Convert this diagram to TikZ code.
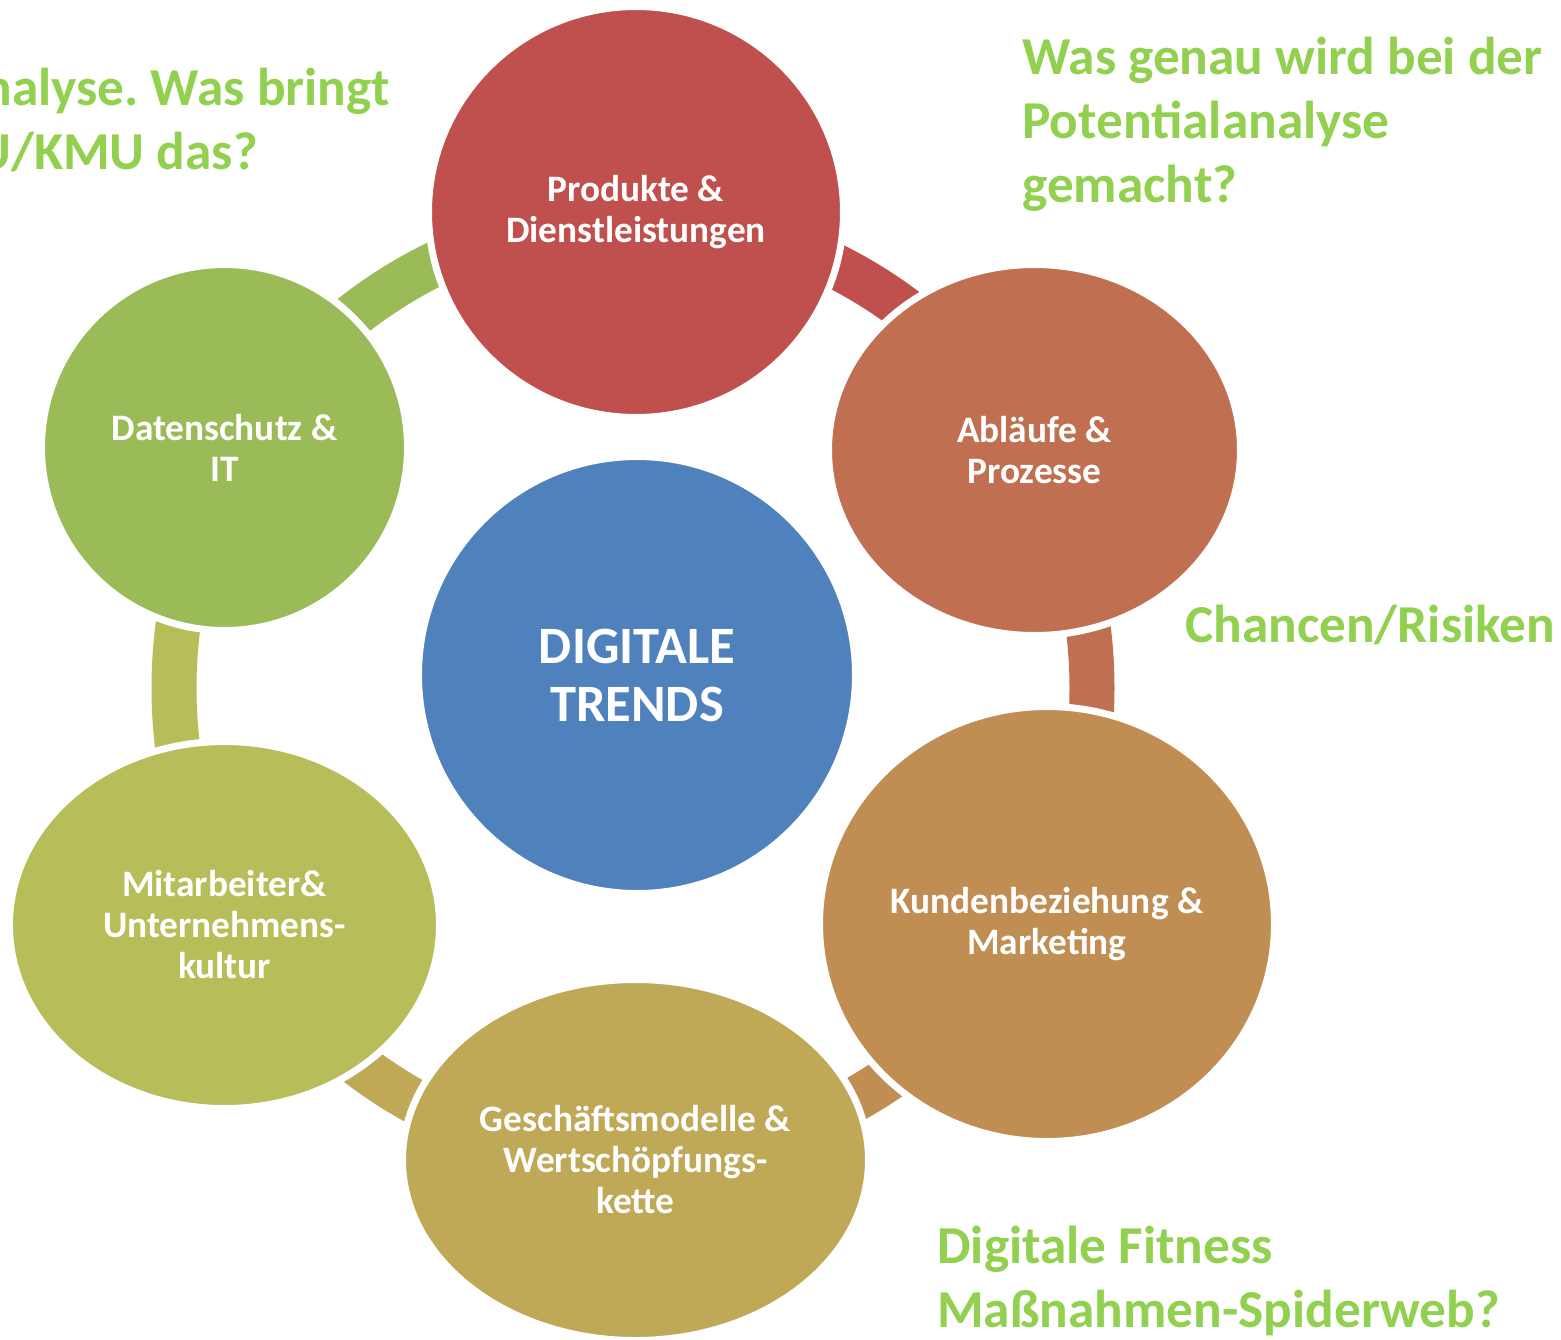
\documentclass[tikz,border=0pt]{standalone}
\usepackage{fontspec}
\setmainfont{Carlito}
\frenchspacing
\usetikzlibrary{shapes.geometric}
\definecolor{cProd}{HTML}{C0504D}
\definecolor{cAbl}{HTML}{C07050}
\definecolor{cKund}{HTML}{C08E53}
\definecolor{cGesch}{HTML}{BFA856}
\definecolor{cMit}{HTML}{B7BD58}
\definecolor{cDat}{HTML}{9BBB59}
\definecolor{cCenter}{HTML}{4F81BD}
\definecolor{noteGreen}{HTML}{92D050}
\begin{document}
\begin{tikzpicture}[x=0.6pt,y=-0.6pt,
  bubble/.style={ellipse, draw=white, line width=4.2pt, text=white,
    font=\bfseries\fontsize{22.4}{24.6}\selectfont, align=center, inner sep=0pt},
  band/.style={line width=27pt},
  note/.style={text=noteGreen, font=\bfseries\fontsize{32}{38.4}\selectfont, inner sep=0pt}]
\useasboundingbox (0,0) rectangle (1561,1339);
\coordinate (ring) at (633,688);
\draw[band,cProd]  (ring) ++(-90:459 and 470) arc[start angle=-90,end angle=-30,x radius=459,y radius=470];
\draw[band,cAbl]   (ring) ++(-30:459 and 470) arc[start angle=-30,end angle=30,x radius=459,y radius=470];
\draw[band,cKund]  (ring) ++(30:459 and 470) arc[start angle=30,end angle=90,x radius=459,y radius=470];
\draw[band,cGesch] (ring) ++(90:459 and 470) arc[start angle=90,end angle=150,x radius=459,y radius=470];
\draw[band,cMit]   (ring) ++(150:459 and 470) arc[start angle=150,end angle=210,x radius=459,y radius=470];
\draw[band,cDat]   (ring) ++(210:459 and 470) arc[start angle=210,end angle=270,x radius=459,y radius=470];

\node[bubble, fill=cProd, minimum width={415*0.6pt}, minimum height={411*0.6pt}] (prod) at (636,212) {Produkte \&\\Dienstleistungen};
\node[bubble, fill=cAbl, minimum width={412*0.6pt}, minimum height={371*0.6pt}] (abl) at (1034.5,450) {Abläufe \&\\Prozesse};
\node[bubble, fill=cKund, minimum width={455*0.6pt}, minimum height={435*0.6pt}] (kund) at (1047,924) {Kundenbeziehung \&\\Marketing};
\node[bubble, fill=cGesch, minimum width={466*0.6pt}, minimum height={361*0.6pt}] (gesch) at (635.5,1160) {Geschäftsmodelle \&\\Wertschöpfungs-\\kette};
\node[bubble, fill=cMit, minimum width={430*0.6pt}, minimum height={367*0.6pt}] (mit) at (224.5,925) {Mitarbeiter\&\\Unternehmens-\\kultur};
\node[bubble, fill=cDat, minimum width={366*0.6pt}, minimum height={366*0.6pt}] (dat) at (224.5,447.5) {Datenschutz \&\\IT};
\node[bubble, fill=cCenter, minimum width={437*0.6pt}, minimum height={437*0.6pt},
  font=\bfseries\fontsize{31.5}{34.8}\selectfont] (center) at (637,675) {DIGITALE\\TRENDS};

\node[note, anchor=base east] (tl1) at (390,105) {nalyse. Was bringt};
\node[note, anchor=base east] (tl2) at (258,169) {U/KMU das?};
\node[note, anchor=base west] (tr1) at (1022,74) {Was genau wird bei der};
\node[note, anchor=base west] (tr2) at (1022,138) {Potentialanalyse};
\node[note, anchor=base west] (tr3) at (1022,202) {gemacht?};
\node[note, anchor=base west] (cr) at (1185,642) {Chancen/Risiken};
\node[note, anchor=base west] (df1) at (937,1263) {Digitale Fitness};
\node[note, anchor=base west] (df2) at (937,1327) {Maßnahmen-Spiderweb?};
\end{tikzpicture}
\end{document}
